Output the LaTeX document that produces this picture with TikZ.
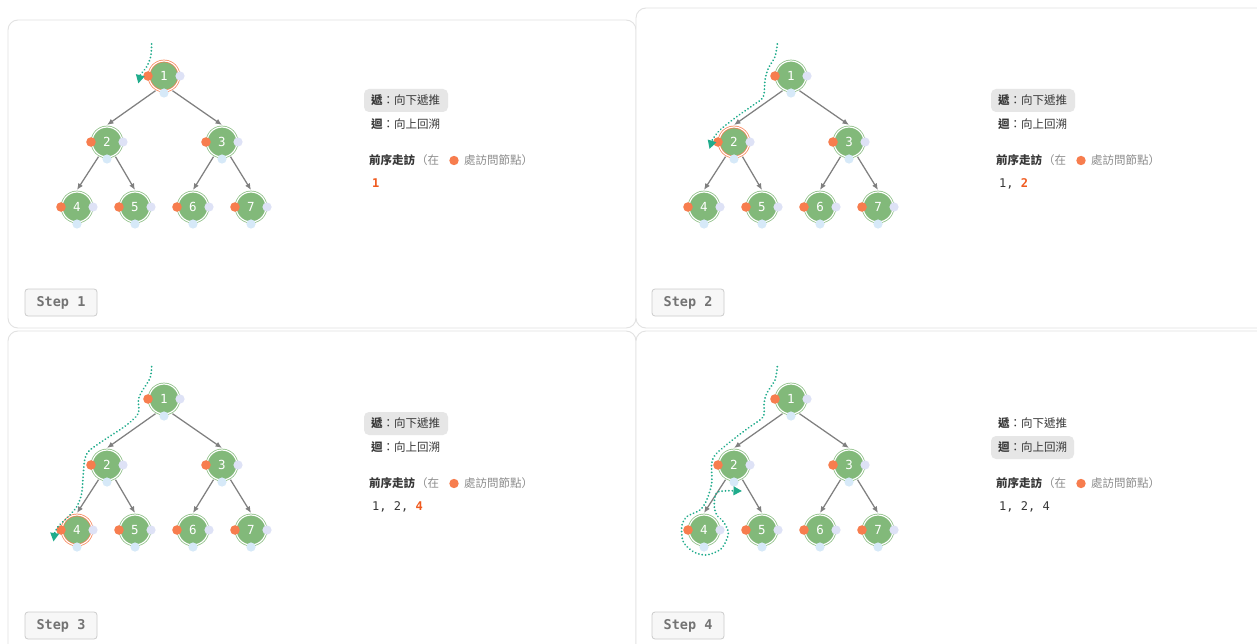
\documentclass[tikz,border=0pt]{standalone}
\usepackage{fontspec}
\setmainfont{Noto Sans CJK TC}
\newfontfamily\monofont{DejaVu Sans Mono}
\usetikzlibrary{arrows.meta}
\definecolor{nodegreen}{RGB}{130,185,122}
\definecolor{accent}{RGB}{247,125,78}
\definecolor{dotblue}{RGB}{214,233,248}
\definecolor{dotlav}{RGB}{222,226,246}
\definecolor{pathteal}{RGB}{32,172,140}
\definecolor{edgegray}{RGB}{128,128,128}
\definecolor{maintext}{RGB}{55,55,55}
\definecolor{note}{RGB}{140,140,140}
\definecolor{seqor}{RGB}{240,90,30}
\definecolor{panelline}{RGB}{226,226,226}
\definecolor{hlfill}{RGB}{230,230,230}
\newcommand\hlnum[1]{\textcolor{seqor}{\bfseries #1}}
\newcommand\drawtree[2]{%
  \foreach \i/\x/\y in {1/164/76,2/107/142,3/222/142,4/77/207,5/135/207,6/193/207,7/251/207}{%
    \ifnum\i=#2\relax\def\rc{accent}\else\def\rc{nodegreen}\fi
    \node[tnode,draw=\rc] (#1\i) at (\x,\y) {\i};
    \fill[accent] (\x-16,\y) circle (4.8);
    \fill[dotlav] (\x+16,\y) circle (4.6);
    \fill[dotblue] (\x,\y+17) circle (4.6);
  }
  \foreach \p/\c/\a in {1/2/-120,1/3/-60,2/4/-120,2/5/-60,3/6/-120,3/7/-60}{%
    \draw[edge] (#1\p.\a) -- (#1\c.north);
  }
}
\newcommand\paneltext[4]{%
  \ifnum#2=1\relax \fill[hlbox] (364,89) rectangle (448,112);
  \else \fill[hlbox] (364,113) rectangle (447,136);\fi
  \node[txt] (#1l1) at (371,100.5) {\textbf{遞}：向下遞推};
  \node[txt] (#1l2) at (371,124.5) {\textbf{迴}：向上回溯};
  \node[txt] (#1l3) at (369,160) {\textbf{前序走訪}};
  \node[txt,text=note] (#1l4) at (416,160) {（在};
  \fill[accent] (454,160.5) circle (4.7);
  \node[txt,text=note] (#1l5) at (464,160) {處訪問節點）};
  \node[seq] (#1s) at (372,183.5) {#3};
  \node[stepbox] (#1st) at (61,302.5) {Step #4};
}
\begin{document}
\begin{tikzpicture}[x=1pt,y=-1pt,
  panelbox/.style={draw=panelline,line width=0.9pt,rounded corners=10pt,fill=white},
  tnode/.style={circle,fill=nodegreen,minimum size=30pt,inner sep=0pt,outer sep=2pt,
    line width=0.7pt,double=white,double distance=1.2pt,text=white,
    font=\monofont\fontsize{12.5}{14}\selectfont},
  edge/.style={draw=edgegray,line width=1.25pt,-{Latex[length=6.5pt,width=5.5pt]}},
  hlbox/.style={fill=hlfill,rounded corners=5pt},
  txt/.style={anchor=west,inner sep=0pt,text=maintext,font=\fontsize{11.5}{14}\selectfont},
  seq/.style={anchor=west,inner sep=0pt,text=maintext,font=\monofont\fontsize{12}{14}\selectfont},
  stepbox/.style={draw=black!20,fill=black!3,rounded corners=3pt,line width=0.8pt,
    minimum width=72pt,minimum height=27pt,inner sep=0pt,text=black!55,
    font=\monofont\bfseries\fontsize{13.5}{15}\selectfont},
  trail/.style={draw=pathteal,line width=2pt,dash pattern=on 0.01pt off 3.4pt,line cap=round,
    -{Triangle[length=8.5pt,width=8.5pt,fill=pathteal]}}]
\useasboundingbox (0,0) rectangle (1257,644);
\clip (0,0) rectangle (1257,644);
\fill[white] (0,0) rectangle (1257,644);
\draw[panelbox] (8,20) rectangle (636,328);
\draw[panelbox] (636,8) rectangle (1275,328);
\draw[panelbox] (8,331) rectangle (636,665);
\draw[panelbox] (636,331) rectangle (1275,665);
% Step 1
\begin{scope}
  \drawtree{a}{1}
  \paneltext{a}{1}{\hlnum{1}}{1}
  \draw[trail] plot[smooth,tension=0.5] coordinates {(151.7,44) (150.7,56.7) (146.7,66.7) (140.5,74.5)} -- (138.3,83.5);
\end{scope}
% Step 2
\begin{scope}[shift={(627,0)}]
  \drawtree{b}{2}
  \paneltext{b}{1}{1, \hlnum{2}}{2}
  \draw[trail] plot[smooth,tension=0.5] coordinates {(150.3,44) (148,56.7) (141.3,68.3) (138,80) (136.3,96.7) (126.3,105) (109.7,116.7) (93,130) (85.5,139.5)} -- (82.5,149);
\end{scope}
% Step 3
\begin{scope}[shift={(0,323)}]
  \drawtree{c}{4}
  \paneltext{c}{1}{1, 2, \hlnum{4}}{3}
  \draw[trail] plot[smooth,tension=0.5] coordinates {(151.7,43.7) (150,55.3) (141.7,68.7) (138.3,77) (138.3,90.3) (126.7,102) (106.7,115.3) (90,127) (85,135.3) (83.3,150.3) (81.7,170.3) (76.7,183.7) (66.7,195.3) (58.5,203) (54.8,209.5)} -- (53.5,218.5);
\end{scope}
% Step 4
\begin{scope}[shift={(627,323)}]
  \drawtree{d}{0}
  \paneltext{d}{2}{1, 2, 4}{4}
  \draw[trail] plot[smooth,tension=0.5] coordinates {(150.3,43.7) (148,57) (139.7,70.3) (137,80.3) (136.3,93.7) (123,103.7) (109.7,113.7) (89.7,130.3) (84.7,140.3) (84.7,160.3) (79.7,177) (73,187) (59.7,193.7) (54.7,203.7) (56.3,218.7) (66.3,228.7) (79.7,232) (94.7,225.3) (101.3,210.3) (96.3,198.7) (89.7,192) (87.3,183.7) (88,173.7) (91.3,168.7) (103,167.7)} -- (115,168);
\end{scope}
\end{tikzpicture}
\end{document}
